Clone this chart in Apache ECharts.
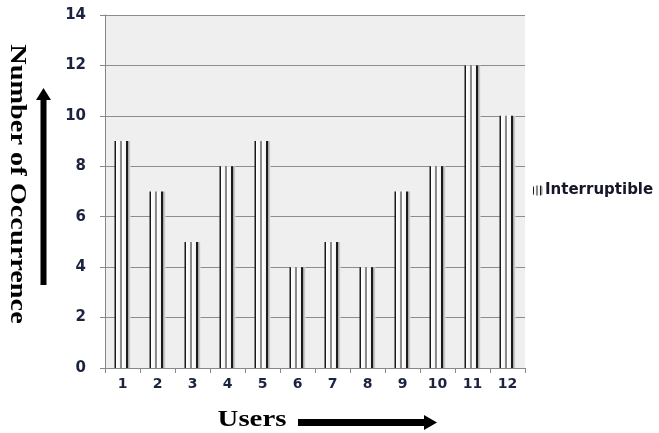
<!DOCTYPE html>
<html>
<head>
<meta charset="utf-8">
<script src="https://cdn.jsdelivr.net/npm/echarts@6/dist/echarts.min.js"></script>
<style>
  html, body { margin: 0; padding: 0; background: #ffffff; }
  #chart { width: 659px; height: 433px; }
</style>
</head>
<body>
<div id="chart"></div>
<script>
// Occurrences of interruptible events per user
const users = ['1', '2', '3', '4', '5', '6', '7', '8', '9', '10', '11', '12'];
const interruptible = [9, 7, 5, 8, 9, 4, 5, 4, 7, 8, 12, 10];
const yTicks = { min: 0, max: 14, interval: 2 };

// Striped "cylinder" fill used for every bar
const stripeFill = new echarts.graphic.LinearGradient(0, 0, 1, 0, [
  { offset: 0.00, color: '#1a1a1a' },
  { offset: 0.11, color: '#1a1a1a' },
  { offset: 0.12, color: '#ffffff' },
  { offset: 0.32, color: '#f4f4f4' },
  { offset: 0.34, color: '#8a8a8a' },
  { offset: 0.46, color: '#8a8a8a' },
  { offset: 0.48, color: '#ffffff' },
  { offset: 0.70, color: '#f2f2f2' },
  { offset: 0.72, color: '#1a1a1a' },
  { offset: 0.82, color: '#1a1a1a' },
  { offset: 0.84, color: '#9a9a9a' },
  { offset: 1.00, color: '#e4e4e4' }
]);

const chart = echarts.init(document.getElementById('chart'), null, { renderer: 'canvas' });

const arrowUp = [[40.5, 285], [40.5, 100], [36, 100], [43.5, 88], [51, 100], [46.5, 100], [46.5, 285]];
const arrowRight = [[298, 419], [424, 419], [424, 415], [437, 422.5], [424, 430], [424, 426], [298, 426]];

chart.setOption({
  animation: false,
  grid: {
    left: 105, right: 134, top: 15, bottom: 65,
    show: true, backgroundColor: '#efefef', borderWidth: 0
  },
  legend: {
    data: ['Interruptible'],
    orient: 'vertical',
    left: 528, top: 178,
    itemWidth: 10, itemHeight: 10, itemGap: 0,
    textStyle: { fontFamily: 'DejaVu Sans', fontWeight: 'bold', fontSize: 15, color: '#16162a', padding: [0, 0, 0, -3] }
  },
  xAxis: {
    type: 'category',
    data: users,
    boundaryGap: true,
    axisLine: { show: true, lineStyle: { color: '#888', width: 1 } },
    axisTick: { show: true, inside: false, length: 5, alignWithLabel: false, lineStyle: { color: '#888' } },
    axisLabel: { margin: 9, fontFamily: 'DejaVu Sans', fontWeight: 'bold', fontSize: 14, color: '#1c2340' },
    splitLine: { show: false }
  },
  yAxis: {
    type: 'value',
    min: yTicks.min, max: yTicks.max, interval: yTicks.interval,
    axisLine: { show: true, lineStyle: { color: '#888', width: 1 } },
    axisTick: { show: true, inside: false, length: 5, lineStyle: { color: '#888' } },
    axisLabel: { margin: 19, fontFamily: 'DejaVu Sans', fontWeight: 'bold', fontSize: 15, color: '#1c2340' },
    splitLine: { show: true, lineStyle: { color: '#8c8c8c', width: 1 } }
  },
  series: [{
    name: 'Interruptible',
    type: 'bar',
    data: interruptible,
    barWidth: 16,
    itemStyle: { color: stripeFill },
    emphasis: { disabled: true }
  }],
  graphic: [
    {
      type: 'text',
      x: 17, y: 184,
      rotation: -Math.PI / 2,
      scaleX: 1.18,
      style: {
        text: 'Number of Occurrence',
        font: 'bold 24px "Liberation Serif"',
        fill: '#000',
        align: 'center', verticalAlign: 'middle'
      }
    },
    {
      type: 'text',
      x: 252, y: 420,
      scaleX: 1.2,
      style: {
        text: 'Users',
        font: 'bold 24px "Liberation Serif"',
        fill: '#000',
        align: 'center', verticalAlign: 'middle'
      }
    },
    { type: 'polygon', shape: { points: arrowUp }, style: { fill: '#000' } },
    { type: 'polygon', shape: { points: arrowRight }, style: { fill: '#000' } }
  ]
});
</script>
</body>
</html>
